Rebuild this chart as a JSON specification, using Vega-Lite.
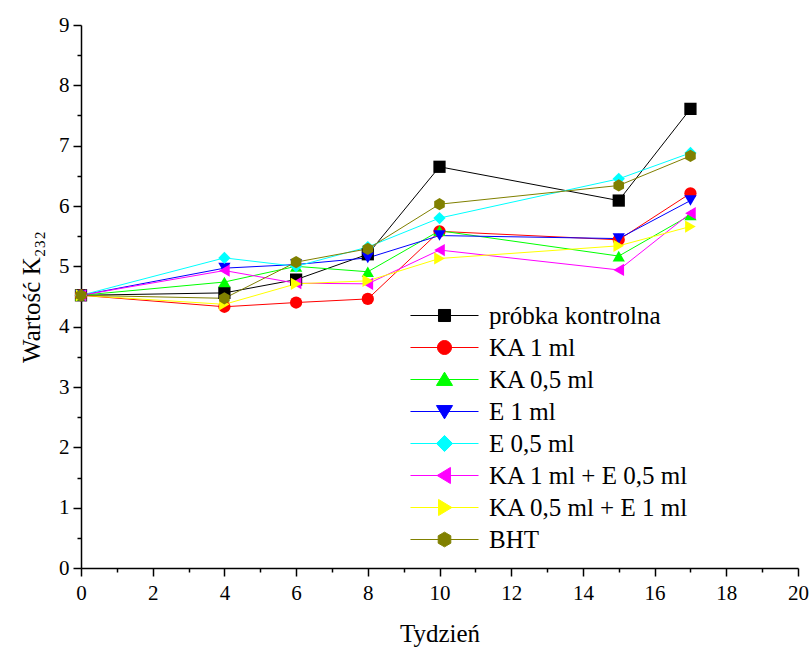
{
  "$schema": "https://vega.github.io/schema/vega-lite/v6.json",
  "width": 717,
  "height": 543,
  "autosize": "none",
  "padding": {"left": 81, "top": 25, "right": 13, "bottom": 82},
  "background": "white",
  "config": {
    "view": {"stroke": null},
    "font": "Liberation Serif, Times New Roman, serif",
    "axis": {
      "grid": false,
      "domainColor": "black",
      "domainWidth": 1.5,
      "tickColor": "black",
      "tickWidth": 1.5,
      "labelColor": "black",
      "titleColor": "black",
      "labelFont": "Liberation Serif, Times New Roman, serif",
      "titleFont": "Liberation Serif, Times New Roman, serif",
      "labelFontSize": 21,
      "titleFontSize": 25,
      "titleFontWeight": "normal"
    },
    "legend": {"labelFont": "Liberation Serif, Times New Roman, serif"}
  },
  "data": {
    "values": [
      {"s": "próbka kontrolna", "w": 0, "k": 4.52},
      {"s": "próbka kontrolna", "w": 4, "k": 4.56},
      {"s": "próbka kontrolna", "w": 6, "k": 4.78},
      {"s": "próbka kontrolna", "w": 8, "k": 5.2},
      {"s": "próbka kontrolna", "w": 10, "k": 6.65},
      {"s": "próbka kontrolna", "w": 15, "k": 6.09},
      {"s": "próbka kontrolna", "w": 17, "k": 7.61},
      {"s": "KA 1 ml", "w": 0, "k": 4.52},
      {"s": "KA 1 ml", "w": 4, "k": 4.33},
      {"s": "KA 1 ml", "w": 6, "k": 4.4},
      {"s": "KA 1 ml", "w": 8, "k": 4.46},
      {"s": "KA 1 ml", "w": 10, "k": 5.58},
      {"s": "KA 1 ml", "w": 15, "k": 5.44},
      {"s": "KA 1 ml", "w": 17, "k": 6.21},
      {"s": "KA 0,5 ml", "w": 0, "k": 4.52},
      {"s": "KA 0,5 ml", "w": 4, "k": 4.74},
      {"s": "KA 0,5 ml", "w": 6, "k": 5.0},
      {"s": "KA 0,5 ml", "w": 8, "k": 4.91},
      {"s": "KA 0,5 ml", "w": 10, "k": 5.59},
      {"s": "KA 0,5 ml", "w": 15, "k": 5.17},
      {"s": "KA 0,5 ml", "w": 17, "k": 5.85},
      {"s": "E 1 ml", "w": 0, "k": 4.52},
      {"s": "E 1 ml", "w": 4, "k": 4.97},
      {"s": "E 1 ml", "w": 6, "k": 5.03},
      {"s": "E 1 ml", "w": 8, "k": 5.14},
      {"s": "E 1 ml", "w": 10, "k": 5.51},
      {"s": "E 1 ml", "w": 15, "k": 5.46},
      {"s": "E 1 ml", "w": 17, "k": 6.09},
      {"s": "E 0,5 ml", "w": 0, "k": 4.52},
      {"s": "E 0,5 ml", "w": 4, "k": 5.14},
      {"s": "E 0,5 ml", "w": 6, "k": 5.0},
      {"s": "E 0,5 ml", "w": 8, "k": 5.32},
      {"s": "E 0,5 ml", "w": 10, "k": 5.8},
      {"s": "E 0,5 ml", "w": 15, "k": 6.45},
      {"s": "E 0,5 ml", "w": 17, "k": 6.88},
      {"s": "KA 1 ml + E 0,5 ml", "w": 0, "k": 4.52},
      {"s": "KA 1 ml + E 0,5 ml", "w": 4, "k": 4.93},
      {"s": "KA 1 ml + E 0,5 ml", "w": 6, "k": 4.72},
      {"s": "KA 1 ml + E 0,5 ml", "w": 8, "k": 4.71},
      {"s": "KA 1 ml + E 0,5 ml", "w": 10, "k": 5.27},
      {"s": "KA 1 ml + E 0,5 ml", "w": 15, "k": 4.94},
      {"s": "KA 1 ml + E 0,5 ml", "w": 17, "k": 5.88},
      {"s": "KA 0,5 ml + E 1 ml", "w": 0, "k": 4.52},
      {"s": "KA 0,5 ml + E 1 ml", "w": 4, "k": 4.37},
      {"s": "KA 0,5 ml + E 1 ml", "w": 6, "k": 4.71},
      {"s": "KA 0,5 ml + E 1 ml", "w": 8, "k": 4.76},
      {"s": "KA 0,5 ml + E 1 ml", "w": 10, "k": 5.13},
      {"s": "KA 0,5 ml + E 1 ml", "w": 15, "k": 5.34},
      {"s": "KA 0,5 ml + E 1 ml", "w": 17, "k": 5.66},
      {"s": "BHT", "w": 0, "k": 4.52},
      {"s": "BHT", "w": 4, "k": 4.47},
      {"s": "BHT", "w": 6, "k": 5.07},
      {"s": "BHT", "w": 8, "k": 5.29},
      {"s": "BHT", "w": 10, "k": 6.03},
      {"s": "BHT", "w": 15, "k": 6.34},
      {"s": "BHT", "w": 17, "k": 6.83}
    ]
  },
  "encoding": {
    "x": {
      "field": "w",
      "type": "quantitative",
      "scale": {"domain": [0, 20], "nice": false},
      "axis": {
        "title": "Tydzień",
        "values": [0,1,2,3,4,5,6,7,8,9,10,11,12,13,14,15,16,17,18,19,20],
        "labelExpr": "datum.value % 2 === 0 ? datum.label : ''",
        "tickSize": {"condition": {"test": "datum.value % 2 === 0", "value": 8}, "value": 4},
        "labelPadding": 6,
        "titlePadding": 18,
        "labelFlush": false,
        "labelOverlap": false
      }
    },
    "y": {
      "field": "k",
      "type": "quantitative",
      "scale": {"domain": [0, 9], "nice": false},
      "axis": {
        "title": "Wartość K₂₃₂",
        "values": [0,0.5,1,1.5,2,2.5,3,3.5,4,4.5,5,5.5,6,6.5,7,7.5,8,8.5,9],
        "format": ".0f",
        "labelExpr": "datum.value % 1 === 0 ? datum.label : ''",
        "tickSize": {"condition": {"test": "datum.value % 1 === 0", "value": 8}, "value": 4},
        "labelPadding": 4,
        "titlePadding": 14,
        "labelFlush": false,
        "labelOverlap": false
      }
    }
  },
  "resolve": {
    "scale": {"shape": "independent"},
    "legend": {"stroke": "independent", "fill": "independent", "shape": "independent"}
  },
  "layer": [
    {
      "mark": {"type": "line", "strokeWidth": 1},
      "encoding": {
        "stroke": {
          "field": "s",
          "type": "nominal",
          "sort": null,
          "scale": {
            "domain": ["próbka kontrolna", "KA 1 ml", "KA 0,5 ml", "E 1 ml", "E 0,5 ml", "KA 1 ml + E 0,5 ml", "KA 0,5 ml + E 1 ml", "BHT"],
            "range": ["#000000", "#ff0000", "#00ff00", "#0000ff", "#00ffff", "#ff00ff", "#ffff00", "#808000"]
          },
          "legend": null
        }
      }
    },
    {
      "mark": {"type": "point", "filled": true, "size": 150, "opacity": 1},
      "encoding": {
        "fill": {
          "field": "s",
          "type": "nominal",
          "sort": null,
          "scale": {
            "domain": ["próbka kontrolna", "KA 1 ml", "KA 0,5 ml", "E 1 ml", "E 0,5 ml", "KA 1 ml + E 0,5 ml", "KA 0,5 ml + E 1 ml", "BHT"],
            "range": ["#000000", "#ff0000", "#00ff00", "#0000ff", "#00ffff", "#ff00ff", "#ffff00", "#808000"]
          },
          "legend": null
        },
        "shape": {
          "field": "s",
          "type": "nominal",
          "sort": null,
          "scale": {
            "domain": ["próbka kontrolna", "KA 1 ml", "KA 0,5 ml", "E 1 ml", "E 0,5 ml", "KA 1 ml + E 0,5 ml", "KA 0,5 ml + E 1 ml", "BHT"],
            "range": ["square", "circle", "triangle-up", "triangle-down", "diamond", "triangle-left", "triangle-right", "M0,-1L0.866,-0.5V0.5L0,1L-0.866,0.5V-0.5Z"]
          },
          "legend": null
        }
      }
    },
    {
      "mark": {"type": "point", "filled": true, "size": 0, "strokeWidth": 1},
      "encoding": {
        "fill": {
          "field": "s",
          "type": "nominal",
          "sort": null,
          "legend": {"title": null, "orient": "none", "legendX": 351, "legendY": 278, "padding": 0, "labelFontSize": 25, "labelColor": "black", "labelLimit": 0, "symbolSize": 196, "symbolStrokeWidth": 1, "labelOffset": 32, "rowPadding": 6, "symbolOpacity": 1}
        },
        "stroke": {
          "field": "s",
          "type": "nominal",
          "sort": null,
          "legend": {"title": null, "orient": "none", "legendX": 351, "legendY": 278, "padding": 0, "labelFontSize": 25, "labelColor": "black", "labelLimit": 0, "symbolSize": 196, "symbolStrokeWidth": 1, "labelOffset": 32, "rowPadding": 6, "symbolOpacity": 1}
        },
        "shape": {
          "field": "s",
          "type": "nominal",
          "sort": null,
          "scale": {
            "domain": ["próbka kontrolna", "KA 1 ml", "KA 0,5 ml", "E 1 ml", "E 0,5 ml", "KA 1 ml + E 0,5 ml", "KA 0,5 ml + E 1 ml", "BHT"],
            "range": ["M-4.86,0H4.86M-0.86,-0.86H0.86V0.86H-0.86Z", "M-4.86,0H4.86M-1,0A1,1,0,1,1,1,0A1,1,0,1,1,-1,0Z", "M-4.86,0H4.86M0,-1.05L1.15,0.85H-1.15Z", "M-4.86,0H4.86M0,1.05L1.15,-0.85H-1.15Z", "M-4.86,0H4.86M0,-1.15L1.15,0L0,1.15L-1.15,0Z", "M-4.86,0H4.86M-1.05,0L0.85,-1.15V1.15Z", "M-4.86,0H4.86M1.05,0L-0.85,-1.15V1.15Z", "M-4.86,0H4.86M0,-1.05L0.9,-0.525V0.525L0,1.05L-0.9,0.525V-0.525Z"]
          },
          "legend": {"title": null, "orient": "none", "legendX": 351, "legendY": 278, "padding": 0, "labelFontSize": 25, "labelColor": "black", "labelLimit": 0, "symbolSize": 196, "symbolStrokeWidth": 1, "labelOffset": 32, "rowPadding": 6, "symbolOpacity": 1}
        }
      }
    }
  ]
}
